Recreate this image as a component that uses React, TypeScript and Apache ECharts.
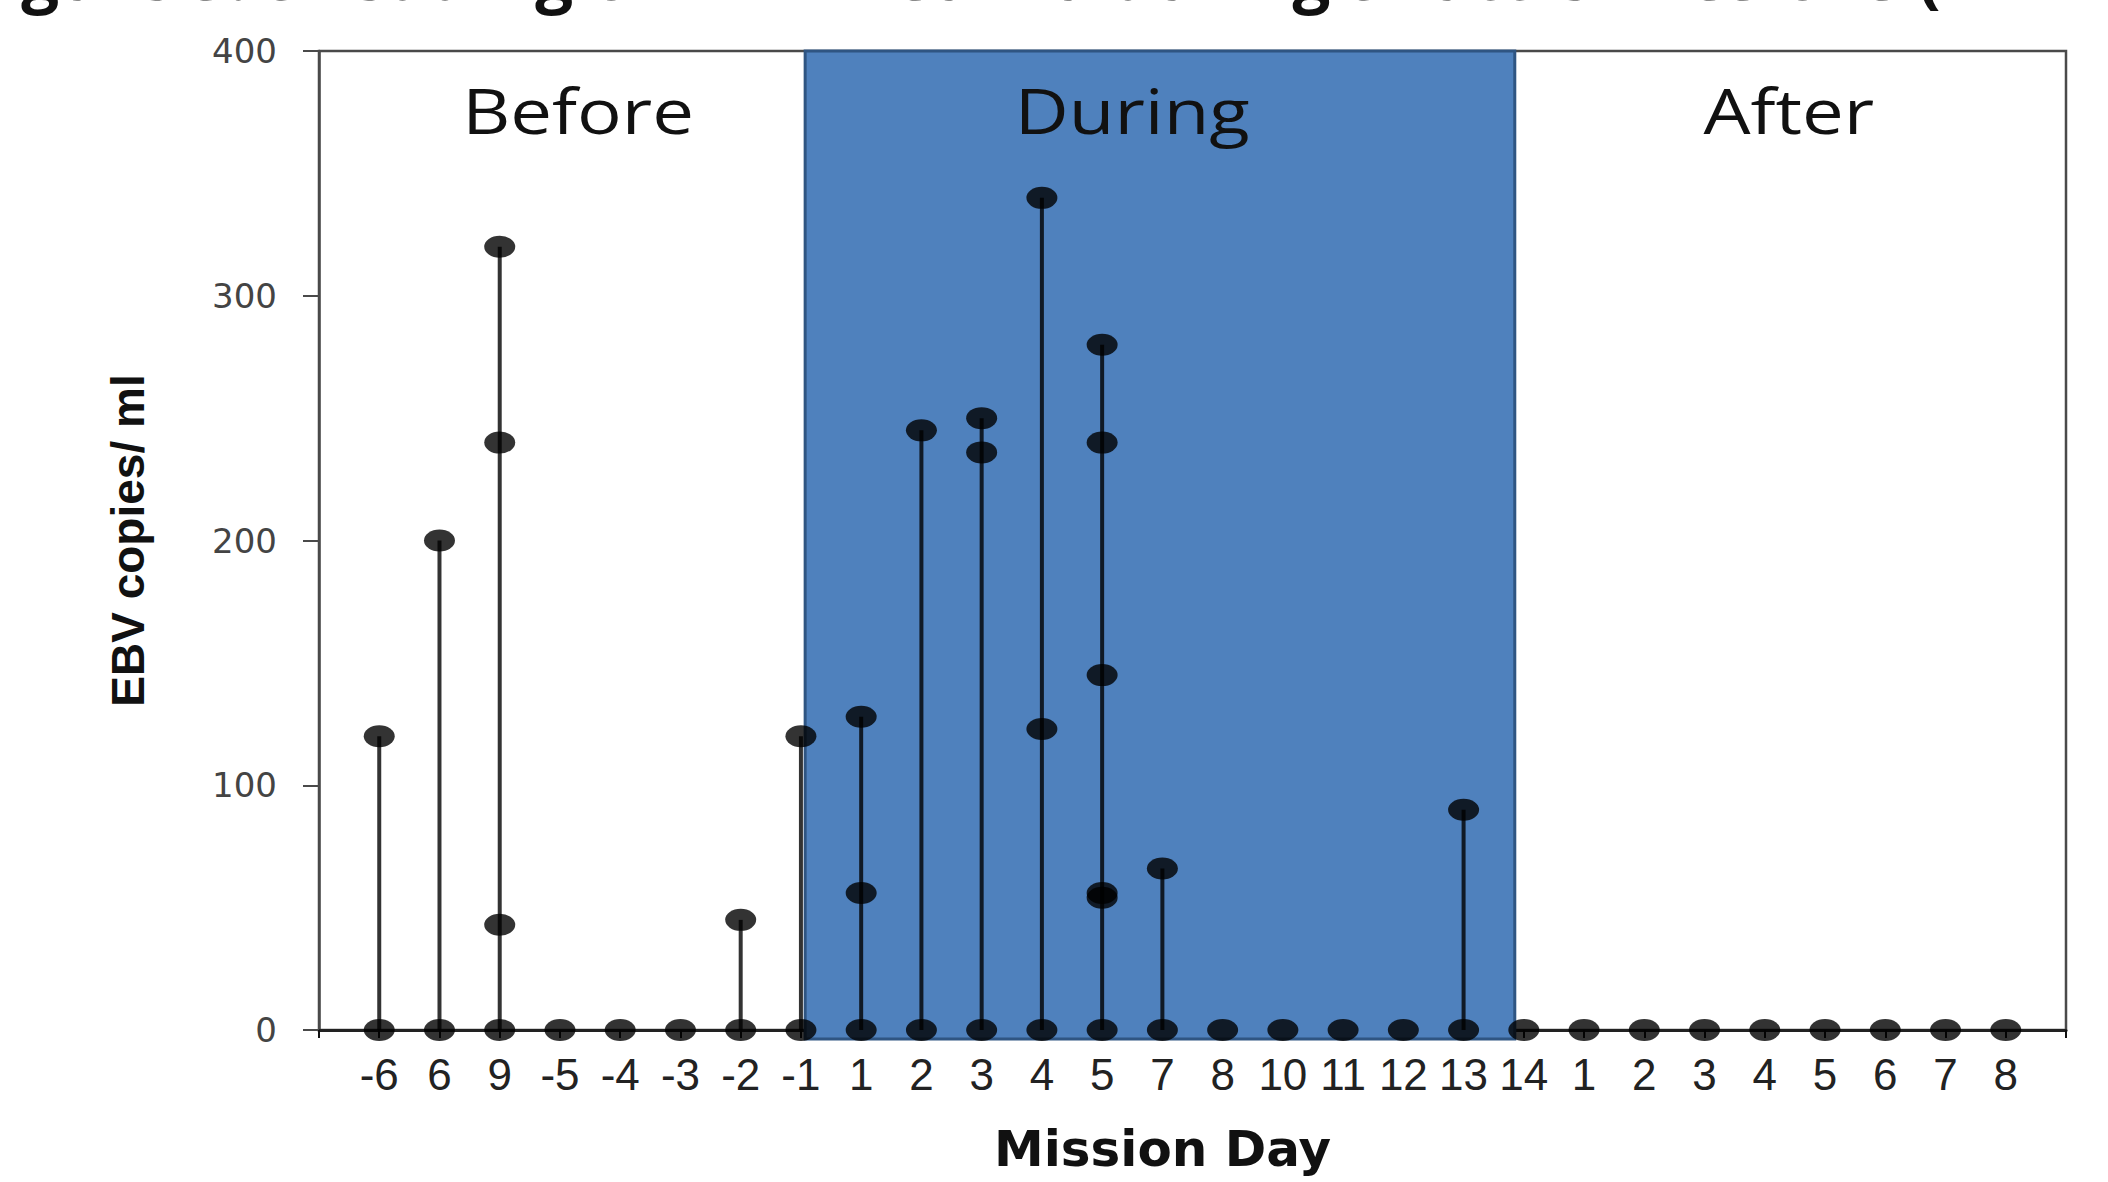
import React, { useEffect, useRef } from "react";
import * as echarts from "echarts";

// X tick labels (mission days), left to right
const dayLabels: string[] = [
  "-6", "6", "9", "-5", "-4", "-3", "-2", "-1",
  "1", "2", "3", "4", "5", "7", "8", "10", "11", "12", "13", "14",
  "1", "2", "3", "4", "5", "6", "7", "8",
];

// Positive EBV detections (copies/ml) per mission day; every day also has a 0 point
const detections: number[][] = [
  [120], // -6
  [200], // 6
  [320, 240, 43], // 9
  [], // -5
  [], // -4
  [], // -3
  [45], // -2
  [120], // -1
  [128, 56], // 1
  [245], // 2
  [250, 236], // 3
  [340, 123], // 4
  [280, 240, 145, 56, 54], // 5
  [66], // 7
  [], // 8
  [], // 10
  [], // 11
  [], // 12
  [90], // 13
  [], // 14
  [], [], [], [], [], [], [], [], // after 1..8
];

const yTicks: number[] = [0, 100, 200, 300, 400];

// Phase shading (in x positions of the value axis) and labels
const duringSpan: number[] = [8.07, 19.85];
const phaseNames: string[] = ["Before", "During", "After"];
const phaseLabelX: number[] = [4.3, 13.5, 24.4];
const phaseLabelY = 376;

const titleText = "Figure 3. Shedding of EBV in saliva during Shuttle missions (n = 10)";

export default function App() {
  const ref = useRef<HTMLDivElement>(null);

  useEffect(() => {
    if (!ref.current) return;
    const chart = echarts.init(ref.current, null, { renderer: "svg" });

    const points: number[][] = [];
    const stems: number[][] = [];
    detections.forEach((vals, i) => {
      const x = i + 1;
      points.push([x, 0]);
      vals.forEach((v) => points.push([x, v]));
      stems.push([x, vals.length ? Math.max(...vals) : 0]);
    });

    const ellipse = "path://M0,10a10,10 0 1,0 20,0a10,10 0 1,0 -20,0Z";

    chart.setOption({
      animation: false,
      backgroundColor: "#ffffff",
      graphic: [
        {
          type: "text",
          left: -36,
          top: -60,
          style: {
            text: titleText,
            font: "bold 67px 'Open Sans', sans-serif",
            fill: "#111",
          },
        },
      ],
      grid: {
        left: 319,
        top: 51,
        right: 42,
        bottom: 152,
        show: true,
        borderColor: "#4a4a4a",
        borderWidth: 2.5,
        backgroundColor: "transparent",
      },
      xAxis: {
        type: "value",
        min: 0,
        max: 29,
        interval: 1,
        splitLine: { show: false },
        axisLine: { show: true, lineStyle: { color: "#222", width: 3 } },
        axisTick: { show: true, length: 8, lineStyle: { color: "#111", width: 2 } },
        axisLabel: {
          margin: 22,
          fontSize: 44,
          fontFamily: "'Liberation Sans', Arial, sans-serif",
          color: "#222",
          formatter: (v: number) => dayLabels[v - 1] ?? "",
        },
        name: "Mission Day",
        nameLocation: "middle",
        nameGap: 94,
        nameTextStyle: {
          fontSize: 50,
          fontWeight: "bold",
          fontFamily: "'DejaVu Sans', Verdana, sans-serif",
          color: "#111",
          padding: [0, 60, 0, 0],
        },
      },
      yAxis: {
        type: "value",
        min: yTicks[0],
        max: yTicks[yTicks.length - 1],
        interval: 100,
        splitLine: { show: false },
        axisLine: { show: true, lineStyle: { color: "#4a4a4a", width: 2.5 } },
        axisTick: { show: true, length: 16, lineStyle: { color: "#4a4a4a", width: 2 } },
        axisLabel: {
          margin: 42,
          fontSize: 34,
          fontFamily: "'DejaVu Sans', Arial, sans-serif",
          color: "#444",
        },
        name: "EBV copies/ ml",
        nameLocation: "middle",
        nameGap: 168,
        nameTextStyle: {
          fontSize: 46,
          fontWeight: "bold",
          fontFamily: "'Liberation Sans Narrow', 'Arial Narrow', 'Liberation Sans', sans-serif",
          color: "#111",
        },
      },
      series: [
        {
          type: "custom",
          name: "phases",
          clip: false,
          z: 1,
          data: phaseNames.map((n, i) => [phaseLabelX[i], phaseLabelY, i]),
          renderItem: (params: any, api: any) => {
            const idx = params.dataIndex;
            const children: any[] = [];
            if (idx === 1) {
              const p0 = api.coord([duringSpan[0], 400]);
              const p1 = api.coord([duringSpan[1], -3.7]);
              children.push({
                type: "rect",
                shape: { x: p0[0], y: p0[1], width: p1[0] - p0[0], height: p1[1] - p0[1] },
                style: { fill: "#4f81bd", stroke: "#2f5582", lineWidth: 3 },
              });
            }
            const c = api.coord([api.value(0), api.value(1)]);
            children.push({
              type: "text",
              x: c[0],
              y: c[1],
              scaleX: 1.2,
              style: {
                text: phaseNames[idx],
                font: "62px 'Open Sans', sans-serif",
                fill: "#111",
                align: "center",
                verticalAlign: "middle",
              },
            });
            return { type: "group", children };
          },
        },
        {
          type: "bar",
          name: "stems",
          data: stems,
          barWidth: 4,
          z: 3,
          itemStyle: { color: "rgba(0,0,0,0.8)" },
        },
        {
          type: "scatter",
          name: "EBV",
          data: points,
          symbol: ellipse,
          symbolSize: [31, 22],
          z: 4,
          itemStyle: { color: "#000" },
        },
      ],
    });

    return () => chart.dispose();
  }, []);

  return (
    <div
      ref={ref}
      style={{ position: "fixed", left: 0, top: 0, width: 2108, height: 1182 }}
    />
  );
}
